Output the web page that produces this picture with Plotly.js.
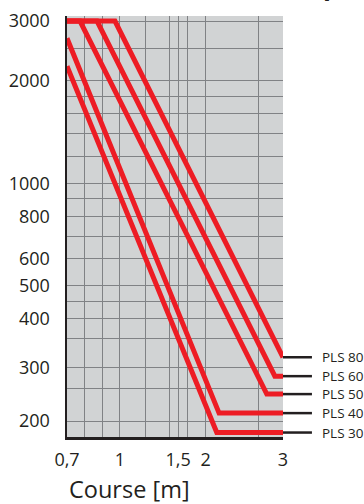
<!DOCTYPE html>
<html>
<head>
<meta charset="utf-8">
<script src="https://cdn.plot.ly/plotly-3.0.1.min.js"></script>
<style>html,body{margin:0;padding:0;background:#fff;}#chart{width:364px;height:504px;}</style>
</head>
<body>
<div id="chart"></div>
<script>
// ---- data ----
const seriesNames = ['PLS 30', 'PLS 40', 'PLS 50', 'PLS 60', 'PLS 80'];
const pls30X = [0.7, 1.92, 3];
const pls30Y = [2210, 185, 185];
const pls40X = [0.7, 1.95, 3];
const pls40Y = [2670, 211, 211];
const pls50X = [0.7, 0.764, 2.69, 3];
const pls50Y = [3000, 3000, 240, 240];
const pls60X = [0.7, 0.857, 2.84, 3];
const pls60Y = [3000, 3000, 271, 271];
const pls80X = [0.7, 0.967, 3];
const pls80Y = [3000, 3000, 308];

const xTickVals = [0.7, 0.79, 0.89, 1, 1.19, 1.4, 1.48, 1.58, 1.78, 2.55, 3];
const xTickText = ['0,7', '', '', '1', '', '', '1,5', '', '2', '', '3'];
const yTickVals = [200, 250, 287, 350, 400, 450, 500, 600, 700, 800, 900, 1000, 1200, 1400, 1600, 1800, 2000, 2500, 3000];
const yTickText = ['200', '', '300', '', '400', '', '500', '600', '', '800', '', '1000', '', '', '', '', '2000', '', '3000'];
const xTitle = 'Course [m]';

// ---- drawing ----
const seriesX = [pls30X, pls40X, pls50X, pls60X, pls80X];
const seriesY = [pls30Y, pls40Y, pls50Y, pls60Y, pls80Y];
const RED = '#ed1c24';
const TXT = '#231f20';
const FONT = '"Open Sans", "Noto Sans", sans-serif';
const yRange = [Math.log10(179.5), Math.log10(3105)];
const toPaperY = v => (Math.log10(v) - yRange[0]) / (yRange[1] - yRange[0]);

const traces = seriesNames.map((n, i) => ({
  type: 'scatter', mode: 'lines', name: n,
  x: seriesX[i], y: seriesY[i],
  line: {color: RED, width: 5},
  cliponaxis: false,
  hoverinfo: 'skip'
}));

const shapes = [];
const annotations = [];
seriesNames.forEach((n, i) => {
  const yEnd = seriesY[i][seriesY[i].length - 1];
  const py = toPaperY(yEnd);
  shapes.push({type: 'line', xref: 'paper', yref: 'paper', x0: 1, x1: 1.134,
    y0: py, y1: py, line: {color: TXT, width: 2.5}, layer: 'above'});
  annotations.push({xref: 'paper', yref: 'paper', x: 1.17, y: py,
    xanchor: 'left', yanchor: 'middle', showarrow: false, text: n,
    font: {family: FONT, size: 13.5, color: TXT}});
});
annotations.push({xref: 'paper', yref: 'paper', x: 0.0, y: -0.124, xanchor: 'left', yanchor: 'middle',
  showarrow: false, text: xTitle, font: {family: FONT, size: 23.5, color: TXT}});
annotations.push({xref: 'paper', yref: 'paper', x: 1.222, y: 1.026, xanchor: 'center', yanchor: 'bottom',
  showarrow: false, text: '<b>p</b>', font: {family: FONT, size: 26, color: TXT}});

const layout = {
  width: 364, height: 504,
  margin: {l: 67, r: 81, t: 16, b: 67, pad: 0},
  paper_bgcolor: '#ffffff', plot_bgcolor: '#d1d3d4',
  showlegend: false,
  font: {family: FONT, color: TXT, size: 18},
  xaxis: {
    type: 'log', range: [Math.log10(0.7), Math.log10(3)],
    tickmode: 'array', tickvals: xTickVals, ticktext: xTickText,
    showgrid: true, gridcolor: '#808285', gridwidth: 1,
    showline: true, linecolor: TXT, linewidth: 3,
    ticks: 'outside', ticklen: 4, tickcolor: 'rgba(0,0,0,0)',
    tickfont: {family: FONT, size: 18, color: TXT},
    zeroline: false, fixedrange: true
  },
  yaxis: {
    type: 'log', range: yRange,
    tickmode: 'array', tickvals: yTickVals, ticktext: yTickText,
    showgrid: true, gridcolor: '#808285', gridwidth: 1,
    showline: true, linecolor: TXT, linewidth: 2.5,
    ticks: 'outside', ticklen: 11, tickcolor: 'rgba(0,0,0,0)',
    tickfont: {family: FONT, size: 18, color: TXT},
    zeroline: false, fixedrange: true
  },
  shapes: shapes,
  annotations: annotations
};

Plotly.newPlot('chart', traces, layout, {staticPlot: true, displayModeBar: false});
</script>
</body>
</html>
